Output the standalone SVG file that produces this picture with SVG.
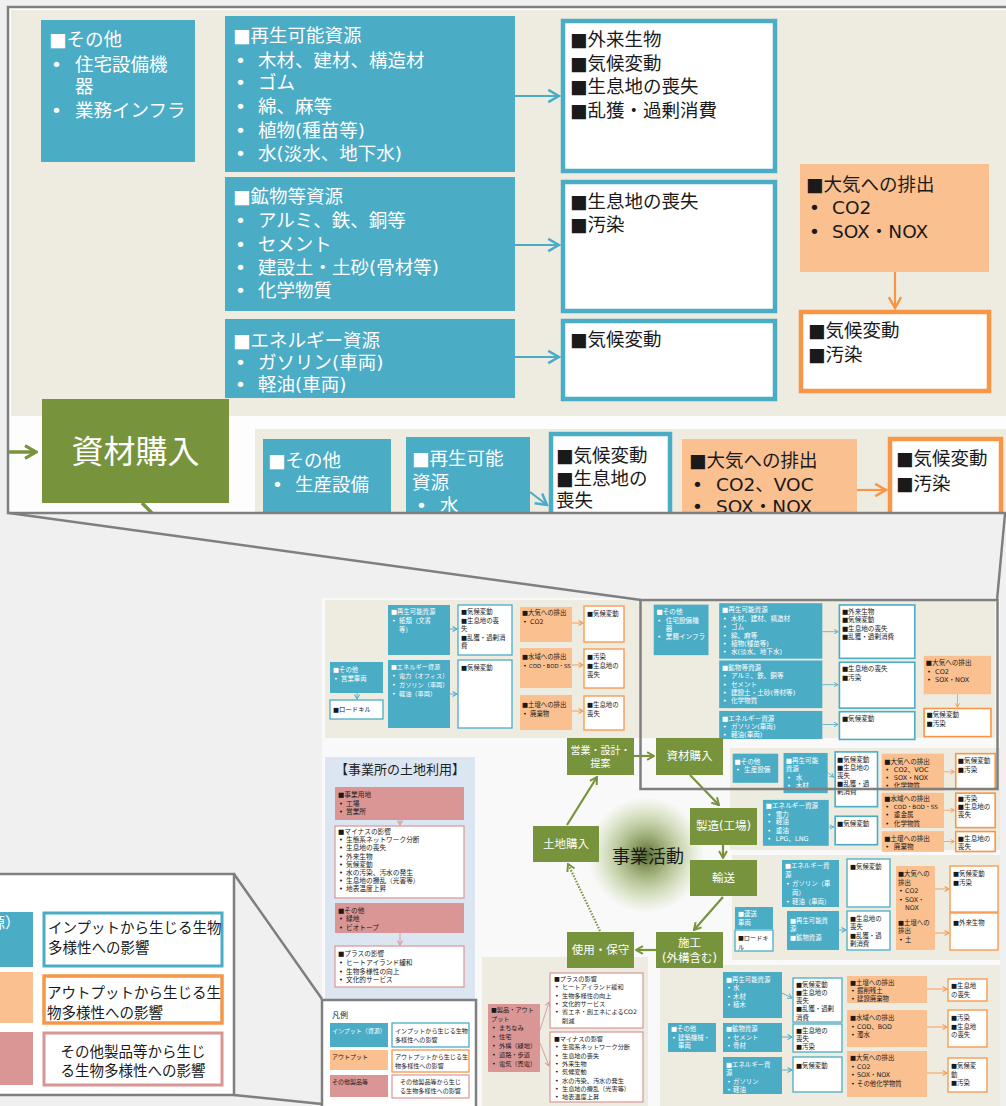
<svg xmlns="http://www.w3.org/2000/svg" xmlns:xlink="http://www.w3.org/1999/xlink" width="1006" height="1106" viewBox="0 0 1006 1106">
<defs>
<style>
text{font-family:"DejaVu Sans","Noto Sans CJK JP","Noto Sans CJK SC",sans-serif}
.bg{fill:#eeece1}
.in{fill:#4bacc6}
.inb{fill:#fff;stroke:#4bacc6;stroke-width:1.3}
.out{fill:#fac090}
.outb{fill:#fff;stroke:#f79646;stroke-width:1.3}
.oth{fill:#d99694}
.othb{fill:#fff;stroke:#d99694;stroke-width:1.2}
.grn{fill:#77933c}
.bw{stroke-width:4.5}
.w{fill:#fff}
.k{fill:#1a1a1a}
.b{font-size:18.5px}
.s{font-size:6.4px}
.s6{font-size:6.2px}
.s7{font-size:6.7px}
.lg{font-size:14.5px}
.cy{font-size:11.5px;fill:#fff}
.frame{fill:none;stroke:#7f7f7f;stroke-width:2.5}
.ab{fill:none;stroke:#4bacc6;stroke-width:2.2;marker-end:url(#mb)}
.abs{fill:none;stroke:#4bacc6;stroke-width:0.9;marker-end:url(#mb)}
.ao{fill:none;stroke:#f79646;stroke-width:2.2;marker-end:url(#mo)}
.aos{fill:none;stroke:#f79646;stroke-width:0.9;marker-end:url(#mo)}
.ap{fill:none;stroke:#d99694;stroke-width:0.9;marker-end:url(#mp)}
.ag{fill:none;stroke:#77933c;stroke-width:2.2;marker-end:url(#mg)}
</style>
<marker id="mb" viewBox="0 0 10 10" refX="9" refY="5" markerWidth="7" markerHeight="7" orient="auto"><path d="M2,1 L9,5 L2,9" fill="none" stroke="#4bacc6" stroke-width="1.6"/></marker>
<marker id="mo" viewBox="0 0 10 10" refX="9" refY="5" markerWidth="7" markerHeight="7" orient="auto"><path d="M2,1 L9,5 L2,9" fill="none" stroke="#f79646" stroke-width="1.6"/></marker>
<marker id="mp" viewBox="0 0 10 10" refX="9" refY="5" markerWidth="7" markerHeight="7" orient="auto"><path d="M2,1 L9,5 L2,9" fill="none" stroke="#d99694" stroke-width="1.6"/></marker>
<marker id="mg" viewBox="0 0 10 10" refX="9" refY="5" markerWidth="4.5" markerHeight="4.5" orient="auto"><path d="M2,1 L9,5 L2,9" fill="none" stroke="#77933c" stroke-width="2"/></marker>
<radialGradient id="glow" cx="0.5" cy="0.5" r="0.5">
<stop offset="0" stop-color="#4f6228" stop-opacity="0.95"/>
<stop offset="0.45" stop-color="#77933c" stop-opacity="0.55"/>
<stop offset="1" stop-color="#9bbb59" stop-opacity="0"/>
</radialGradient>
<clipPath id="cp"><rect x="8" y="7" width="1010" height="506"/></clipPath>
</defs>

<rect x="0" y="0" width="1006" height="1106" fill="#f0f0f0"/>

<!-- magnified panel -->
<g id="zoom-panel" clip-path="url(#cp)">
<rect x="8" y="7" width="1010" height="506" fill="#fdfdfd"/>
<rect class="bg" x="11" y="10" width="1005" height="406"/>
<rect class="bg" x="255" y="429" width="760" height="300"/>
<g id="detail">
<g id="n-sonota-jutaku"><rect class="in" x="41" y="20" width="154" height="142"/>
<text class="b w"><tspan x="49" y="46">■その他</tspan><tspan x="51" y="71">•</tspan><tspan x="75" y="71">住宅設備機</tspan><tspan x="75" y="93">器</tspan><tspan x="51" y="117">•</tspan><tspan x="75" y="117">業務インフラ</tspan></text></g>
<g id="n-saisei"><rect class="in" x="225" y="16" width="290" height="156"/>
<text class="b w"><tspan x="233" y="42">■再生可能資源</tspan><tspan x="235" y="67">•</tspan><tspan x="258" y="67">木材、建材、構造材</tspan><tspan x="235" y="89">•</tspan><tspan x="258" y="89">ゴム</tspan><tspan x="235" y="113">•</tspan><tspan x="258" y="113">綿、麻等</tspan><tspan x="235" y="137">•</tspan><tspan x="258" y="137">植物(種苗等)</tspan><tspan x="235" y="160">•</tspan><tspan x="258" y="160">水(淡水、地下水)</tspan></text></g>
<g id="n-kobutsu"><rect class="in" x="225" y="177" width="290" height="134"/>
<text class="b w"><tspan x="233" y="203">■鉱物等資源</tspan><tspan x="235" y="227">•</tspan><tspan x="258" y="227">アルミ、鉄、銅等</tspan><tspan x="235" y="251">•</tspan><tspan x="258" y="251">セメント</tspan><tspan x="235" y="274">•</tspan><tspan x="258" y="274">建設土・土砂(骨材等)</tspan><tspan x="235" y="297">•</tspan><tspan x="258" y="297">化学物質</tspan></text></g>
<g id="n-energy"><rect class="in" x="225" y="319" width="290" height="79"/>
<text class="b w"><tspan x="233" y="347">■エネルギー資源</tspan><tspan x="235" y="369">•</tspan><tspan x="258" y="369">ガソリン(車両)</tspan><tspan x="235" y="391">•</tspan><tspan x="258" y="391">軽油(車両)</tspan></text></g>
<g id="i-saisei"><rect class="inb bw" x="563" y="21" width="212" height="150"/>
<text class="b k"><tspan x="570" y="46">■外来生物</tspan><tspan x="570" y="70">■気候変動</tspan><tspan x="570" y="93">■生息地の喪失</tspan><tspan x="570" y="117">■乱獲・過剰消費</tspan></text></g>
<g id="i-kobutsu"><rect class="inb bw" x="563" y="182" width="212" height="129"/>
<text class="b k"><tspan x="570" y="208">■生息地の喪失</tspan><tspan x="570" y="231">■汚染</tspan></text></g>
<g id="i-energy"><rect class="inb bw" x="563" y="321" width="212" height="78"/>
<text class="b k"><tspan x="570" y="346">■気候変動</tspan></text></g>
<g id="o-taiki"><rect class="out" x="800" y="164" width="189" height="108"/>
<text class="b k"><tspan x="806" y="191">■大気への排出</tspan><tspan x="809" y="214">•</tspan><tspan x="832" y="214">CO2</tspan><tspan x="809" y="238">•</tspan><tspan x="832" y="238">SOX・NOX</tspan></text></g>
<g id="oi-taiki"><rect class="outb bw" x="801" y="312" width="188" height="79"/>
<text class="b k"><tspan x="808" y="337">■気候変動</tspan><tspan x="808" y="361">■汚染</tspan></text></g>
<g id="n-seisan"><rect class="in" x="263" y="439" width="128" height="82"/>
<text class="b w"><tspan x="268" y="467">■その他</tspan><tspan x="272" y="491">•</tspan><tspan x="295" y="491">生産設備</tspan></text></g>
<g id="n-saisei2"><rect class="in" x="406" y="437" width="124" height="113"/>
<text class="b w"><tspan x="412" y="465">■再生可能</tspan><tspan x="412" y="489">資源</tspan><tspan x="416" y="512">•</tspan><tspan x="440" y="512">水</tspan><tspan x="416" y="536">•</tspan><tspan x="440" y="536">木材</tspan></text></g>
<g id="i-saisei2"><rect class="inb bw" x="551" y="434" width="119" height="154"/>
<text class="b k"><tspan x="556" y="462">■気候変動</tspan><tspan x="556" y="485">■生息地の</tspan><tspan x="556" y="507">喪失</tspan><tspan x="556" y="530">■乱獲・過</tspan><tspan x="556" y="553">剰消費</tspan></text></g>
<g id="o-taiki2"><rect class="out" x="682" y="439" width="175" height="104"/>
<text class="b k"><tspan x="689" y="467">■大気への排出</tspan><tspan x="692" y="491">•</tspan><tspan x="716" y="491">CO2、VOC</tspan><tspan x="692" y="513">•</tspan><tspan x="716" y="513">SOX・NOX</tspan><tspan x="692" y="536">•</tspan><tspan x="716" y="536">化学物質</tspan></text></g>
<g id="oi-taiki2"><rect class="outb bw" x="890" y="439" width="111" height="100"/>
<text class="b k"><tspan x="896" y="465">■気候変動</tspan><tspan x="896" y="490">■汚染</tspan></text></g>
<g id="o-suiiki2"><rect class="out" x="682" y="549" width="175" height="99"/>
<text class="b k"><tspan x="689" y="572">■水域への排出</tspan><tspan x="692" y="595">•</tspan><tspan x="716" y="595" style="font-size:16px">COD・BOD・SS</tspan><tspan x="692" y="618">•</tspan><tspan x="716" y="618">重金属</tspan><tspan x="692" y="641">•</tspan><tspan x="716" y="641">化学物質</tspan></text></g>
<g id="oi-suiiki2"><rect class="outb bw" x="890" y="550" width="111" height="97"/>
<text class="b k"><tspan x="896" y="572">■汚染</tspan><tspan x="896" y="595">■生息地の</tspan><tspan x="896" y="618">喪失</tspan></text></g>
<g id="o-dojo2"><rect class="out" x="682" y="657" width="175" height="58"/>
<text class="b k"><tspan x="689" y="684">■土壌への排出</tspan><tspan x="692" y="707">•</tspan><tspan x="716" y="707">廃棄物</tspan></text></g>
<g id="oi-dojo2"><rect class="outb bw" x="890" y="658" width="111" height="56"/>
<text class="b k"><tspan x="896" y="684">■生息地の</tspan><tspan x="896" y="707">喪失</tspan></text></g>
<g id="n-energy2"><rect class="in" x="348" y="569" width="185" height="129"/>
<text class="b w"><tspan x="356" y="593">■エネルギー資源</tspan><tspan x="360" y="616">•</tspan><tspan x="384" y="616">電力</tspan><tspan x="360" y="638">•</tspan><tspan x="384" y="638">軽油</tspan><tspan x="360" y="661">•</tspan><tspan x="384" y="661">重油</tspan><tspan x="360" y="685">•</tspan><tspan x="384" y="685">LPG、LNG</tspan></text></g>
<g id="i-energy2"><rect class="inb bw" x="551" y="615" width="119" height="80"/>
<text class="b k"><tspan x="556" y="641">■気候変動</tspan></text></g>
<g id="connectors-detail">
<path class="ab" d="M515,96 H559"/>
<path class="ab" d="M515,245 H559"/>
<path class="ab" d="M515,357 H559"/>
<path class="ab" d="M530,492 L547,505"/>
<path class="ab" d="M533,645 H547"/>
<path class="ao" d="M895,272 V308"/>
<path class="ao" d="M857,490 H886"/>
<path class="ao" d="M857,598 H886"/>
<path class="ao" d="M857,686 H886"/>
</g>
</g>
<g id="zoom-shizai"><rect class="grn" x="42" y="399" width="187" height="104"/>
<text x="135.5" y="463" text-anchor="middle" font-size="32" fill="#fff">資材購入</text></g>
<g id="connectors-zoom">
<path d="M0,452 H36" fill="none" stroke="#77933c" stroke-width="3.5" marker-end="url(#mg)"/>
<path d="M142,503 L156,517" fill="none" stroke="#77933c" stroke-width="3.5"/>
</g>
</g>
<rect class="frame" x="8" y="7" width="1010" height="506"/>

<!-- slide area -->
<rect x="322" y="598" width="678" height="508" fill="#f9f9f9"/>
<rect class="bg" x="325" y="600" width="670" height="138"/>
<rect class="bg" x="730" y="748" width="270" height="102"/>
<rect class="bg" x="732" y="855" width="268" height="105"/>
<rect class="bg" x="660" y="965" width="340" height="141"/>
<rect class="bg" x="482" y="957" width="166" height="149"/>

<use xlink:href="#detail" href="#detail" transform="translate(639.15,597.51) scale(0.3557)"/>

<!-- top-left band (sales) -->
<g id="s-saisei"><rect class="in" x="388" y="605" width="62" height="50"/>
<text class="s w"><tspan x="391" y="614">■再生可能資源</tspan><tspan x="392" y="623">•</tspan><tspan x="399" y="623">紙類（文書</tspan><tspan x="399" y="632">等）</tspan></text></g>
<g id="s-energy"><rect class="in" x="388" y="660" width="62" height="68"/>
<text class="s6 w"><tspan x="391" y="669">■エネルギー資源</tspan><tspan x="392" y="678">•</tspan><tspan x="399" y="678">電力（オフィス）</tspan><tspan x="392" y="687">•</tspan><tspan x="399" y="687">ガソリン（車両）</tspan><tspan x="392" y="696">•</tspan><tspan x="399" y="696">軽油（車両）</tspan></text></g>
<g id="s-sonota"><rect class="in" x="330" y="662" width="53" height="31"/>
<text class="s w"><tspan x="333" y="672">■その他</tspan><tspan x="334" y="681">•</tspan><tspan x="341" y="681">営業車両</tspan></text></g>
<g id="s-roadkill"><rect class="inb" x="330" y="700" width="53" height="19"/>
<text class="s k"><tspan x="333" y="712">■ロードキル</tspan></text></g>
<g id="s-i1"><rect class="inb" x="458" y="605" width="54" height="50"/>
<text class="s k"><tspan x="461" y="614">■気候変動</tspan><tspan x="461" y="622.5">■生息地の喪</tspan><tspan x="461" y="631">失</tspan><tspan x="461" y="639.5">■乱獲・過剰消</tspan><tspan x="461" y="648">費</tspan></text></g>
<g id="s-i2"><rect class="inb" x="458" y="660" width="54" height="68"/>
<text class="s k"><tspan x="461" y="670">■気候変動</tspan></text></g>
<g id="s-o1"><rect class="out" x="520" y="607" width="52" height="35"/>
<text class="s k"><tspan x="522" y="615">■大気への排出</tspan><tspan x="523" y="624">•</tspan><tspan x="530" y="624">CO2</tspan></text></g>
<g id="s-o2"><rect class="out" x="520" y="648" width="52" height="40"/>
<text class="s k"><tspan x="522" y="659">■水域への排出</tspan><tspan x="523" y="668">•</tspan><tspan x="529" y="668" style="font-size:5.4px">COD・BOD・SS</tspan></text></g>
<g id="s-o3"><rect class="out" x="520" y="695" width="52" height="35"/>
<text class="s k"><tspan x="522" y="707">■土壌への排出</tspan><tspan x="523" y="716">•</tspan><tspan x="530" y="716">廃棄物</tspan></text></g>
<g id="s-oi1"><rect class="outb" x="584" y="606" width="40" height="36"/>
<text class="s k"><tspan x="587" y="616">■気候変動</tspan></text></g>
<g id="s-oi2"><rect class="outb" x="584" y="649" width="40" height="39"/>
<text class="s k"><tspan x="587" y="659">■汚染</tspan><tspan x="587" y="668">■生息地の</tspan><tspan x="587" y="677">喪失</tspan></text></g>
<g id="s-oi3"><rect class="outb" x="584" y="696" width="40" height="34"/>
<text class="s k"><tspan x="587" y="707">■生息地の</tspan><tspan x="587" y="716">喪失</tspan></text></g>
<g id="connectors-sales">
<path class="abs" d="M357,693 V699"/>
<path class="abs" d="M450,629 H457"/>
<path class="abs" d="M450,694 H457"/>
<path class="aos" d="M572,623 H583"/>
<path class="aos" d="M572,665 H583"/>
<path class="aos" d="M572,711 H583"/>
</g>

<!-- land use panel -->
<rect x="325" y="757" width="150" height="243" fill="#dce6f2"/>
<text x="400" y="774" text-anchor="middle" font-size="13" fill="#222">【事業所の土地利用】</text>
<g id="l-jigyo"><rect class="oth" x="335" y="787" width="129" height="33"/>
<text class="s7 k"><tspan x="338" y="797">■事業用地</tspan><tspan x="339" y="805.5">•</tspan><tspan x="346" y="805.5">工場</tspan><tspan x="339" y="814">•</tspan><tspan x="346" y="814">営業所</tspan></text></g>
<g id="l-minus"><rect class="othb" x="335" y="826" width="129" height="72"/>
<text class="s7 k"><tspan x="338" y="834">■マイナスの影響</tspan><tspan x="339" y="842.2">•</tspan><tspan x="346" y="842.2">生態系ネットワーク分断</tspan><tspan x="339" y="850.4">•</tspan><tspan x="346" y="850.4">生息地の喪失</tspan><tspan x="339" y="858.6">•</tspan><tspan x="346" y="858.6">外来生物</tspan><tspan x="339" y="866.8">•</tspan><tspan x="346" y="866.8">気候変動</tspan><tspan x="339" y="875">•</tspan><tspan x="346" y="875">水の汚染、汚水の発生</tspan><tspan x="339" y="883.2">•</tspan><tspan x="346" y="883.2">生息地の攪乱（光害等）</tspan><tspan x="339" y="891.4">•</tspan><tspan x="346" y="891.4">地表温度上昇</tspan></text></g>
<g id="l-sonota"><rect class="oth" x="335" y="903" width="129" height="30"/>
<text class="s7 k"><tspan x="338" y="912.5">■その他</tspan><tspan x="339" y="921">•</tspan><tspan x="346" y="921">緑地</tspan><tspan x="339" y="929.5">•</tspan><tspan x="346" y="929.5">ビオトープ</tspan></text></g>
<g id="l-plus"><rect class="othb" x="335" y="946" width="129" height="41"/>
<text class="s7 k"><tspan x="338" y="956">■プラスの影響</tspan><tspan x="339" y="965">•</tspan><tspan x="346" y="965">ヒートアイランド緩和</tspan><tspan x="339" y="973.5">•</tspan><tspan x="346" y="973.5">生物多様性の向上</tspan><tspan x="339" y="982">•</tspan><tspan x="346" y="982">文化的サービス</tspan></text></g>
<g id="connectors-land">
<path class="ap" d="M400,820 V825"/>
<path class="ap" d="M400,933 V945"/>
</g>

<!-- transport band -->
<g id="t-energy"><rect class="in" x="782" y="860" width="57" height="47"/>
<text class="s w"><tspan x="785" y="868">■エネルギー資</tspan><tspan x="785" y="877">源</tspan><tspan x="786" y="886">•</tspan><tspan x="792" y="886">ガソリン（車</tspan><tspan x="792" y="895">両）</tspan><tspan x="786" y="904">•</tspan><tspan x="792" y="904">軽油（車両）</tspan></text></g>
<g id="t-i1"><rect class="inb" x="847" y="859" width="43" height="48"/>
<text class="s k"><tspan x="850" y="869">■気候変動</tspan></text></g>
<g id="t-o1"><rect class="out" x="896" y="866" width="39" height="47"/>
<text class="s k"><tspan x="898" y="876">■大気への</tspan><tspan x="898" y="884.5">排出</tspan><tspan x="899" y="893">•</tspan><tspan x="905" y="893">CO2</tspan><tspan x="899" y="901.5">•</tspan><tspan x="905" y="901.5">SOX・</tspan><tspan x="905" y="910">NOX</tspan></text></g>
<g id="t-oi1"><rect class="outb" x="950" y="866" width="48" height="46"/>
<text class="s k"><tspan x="953" y="876">■気候変動</tspan><tspan x="953" y="885">■汚染</tspan></text></g>
<g id="t-truck"><rect class="in" x="735" y="907" width="38" height="22"/>
<text class="s w"><tspan x="738" y="916">■運送</tspan><tspan x="738" y="924.5">車両</tspan></text></g>
<g id="t-roadkill"><rect class="inb" x="735" y="930" width="38" height="21"/>
<text class="s6 k"><tspan x="738" y="940">■ロードキ</tspan><tspan x="738" y="948.5">ル</tspan></text></g>
<g id="t-shigen"><rect class="in" x="787" y="911" width="52" height="39"/>
<text class="s w"><tspan x="790" y="922.5">■再生可能資</tspan><tspan x="790" y="931">源</tspan><tspan x="790" y="940">■鉱物資源</tspan></text></g>
<g id="t-i2"><rect class="inb" x="847" y="911" width="43" height="39"/>
<text class="s k"><tspan x="850" y="920.5">■生息地の</tspan><tspan x="850" y="929">喪失</tspan><tspan x="850" y="937.5">■乱獲・過</tspan><tspan x="850" y="946">剰消費</tspan></text></g>
<g id="t-o2"><rect class="out" x="896" y="913" width="39" height="37"/>
<text class="s k"><tspan x="898" y="924.5">■土壌への</tspan><tspan x="898" y="933">排出</tspan><tspan x="899" y="941.5">•</tspan><tspan x="905" y="941.5">土</tspan></text></g>
<g id="t-oi2"><rect class="outb" x="950" y="913" width="48" height="37"/>
<text class="s k"><tspan x="953" y="925">■外来生物</tspan></text></g>
<g id="connectors-transport">
<path class="abs" d="M839,930 H846"/>
<path class="aos" d="M935,889 H949"/>
<path class="aos" d="M935,933 H949"/>
</g>

<!-- construction band -->
<g id="k-sonota"><rect class="in" x="668" y="1023" width="48" height="29"/>
<text class="s w"><tspan x="671" y="1031">■その他</tspan><tspan x="672" y="1039.5">•</tspan><tspan x="678" y="1039.5">建築機械・</tspan><tspan x="678" y="1048">車両</tspan></text></g>
<g id="k-saisei"><rect class="in" x="723" y="972" width="59" height="46"/>
<text class="s w"><tspan x="726" y="981.5">■再生可能資源</tspan><tspan x="727" y="990">•</tspan><tspan x="733" y="990">水</tspan><tspan x="727" y="998.5">•</tspan><tspan x="733" y="998.5">木材</tspan><tspan x="727" y="1007">•</tspan><tspan x="733" y="1007">植木</tspan></text></g>
<g id="k-kobutsu"><rect class="in" x="723" y="1023" width="59" height="29"/>
<text class="s w"><tspan x="726" y="1031">■鉱物資源</tspan><tspan x="727" y="1039.5">•</tspan><tspan x="733" y="1039.5">セメント</tspan><tspan x="727" y="1048">•</tspan><tspan x="733" y="1048">骨材</tspan></text></g>
<g id="k-energy"><rect class="in" x="723" y="1057" width="59" height="37"/>
<text class="s w"><tspan x="726" y="1066.5">■エネルギー資</tspan><tspan x="726" y="1075">源</tspan><tspan x="727" y="1083.5">•</tspan><tspan x="733" y="1083.5">ガソリン</tspan><tspan x="727" y="1092">•</tspan><tspan x="733" y="1092">軽油</tspan></text></g>
<g id="k-i1"><rect class="inb" x="793" y="978" width="49" height="44"/>
<text class="s k"><tspan x="796" y="986.5">■気候変動</tspan><tspan x="796" y="994.8">■生息地の</tspan><tspan x="796" y="1003.1">喪失</tspan><tspan x="796" y="1011.4">■乱獲・過剰</tspan><tspan x="796" y="1019.7">消費</tspan></text></g>
<g id="k-i2"><rect class="inb" x="793" y="1024" width="49" height="28"/>
<text class="s k"><tspan x="796" y="1032.5">■生息地の</tspan><tspan x="796" y="1040.8">喪失</tspan><tspan x="796" y="1049.1">■汚染</tspan></text></g>
<g id="k-i3"><rect class="inb" x="793" y="1057" width="49" height="35"/>
<text class="s k"><tspan x="796" y="1068">■気候変動</tspan></text></g>
<g id="k-o1"><rect class="out" x="847" y="976" width="80" height="27"/>
<text class="s k"><tspan x="850" y="984.5">■土壌への排出</tspan><tspan x="851" y="992.8">•</tspan><tspan x="857" y="992.8">掘削残土</tspan><tspan x="851" y="1001.1">•</tspan><tspan x="857" y="1001.1">建設廃棄物</tspan></text></g>
<g id="k-o2"><rect class="out" x="847" y="1010" width="80" height="37"/>
<text class="s k"><tspan x="850" y="1020">■水域への排出</tspan><tspan x="851" y="1028.5">•</tspan><tspan x="857" y="1028.5">COD、BOD</tspan><tspan x="851" y="1037">•</tspan><tspan x="857" y="1037">濁水</tspan></text></g>
<g id="k-o3"><rect class="out" x="847" y="1051" width="80" height="46"/>
<text class="s k"><tspan x="850" y="1060">■大気への排出</tspan><tspan x="851" y="1068.5">•</tspan><tspan x="857" y="1068.5">CO2</tspan><tspan x="851" y="1077">•</tspan><tspan x="857" y="1077">SOX・NOX</tspan><tspan x="851" y="1085.5">•</tspan><tspan x="857" y="1085.5">その他化学物質</tspan></text></g>
<g id="k-oi1"><rect class="outb" x="948" y="979" width="39" height="22"/>
<text class="s k"><tspan x="951" y="988">■生息地</tspan><tspan x="951" y="996.5">の喪失</tspan></text></g>
<g id="k-oi2"><rect class="outb" x="948" y="1010" width="39" height="37"/>
<text class="s k"><tspan x="951" y="1020">■汚染</tspan><tspan x="951" y="1028.5">■生息地</tspan><tspan x="951" y="1037">の喪失</tspan></text></g>
<g id="k-oi3"><rect class="outb" x="948" y="1058" width="39" height="34"/>
<text class="s k"><tspan x="951" y="1068">■気候変</tspan><tspan x="951" y="1076.5">動</tspan><tspan x="951" y="1085">■汚染</tspan></text></g>
<g id="connectors-construction">
<path class="abs" d="M782,993 L792,998"/>
<path class="abs" d="M782,1037 H792"/>
<path class="abs" d="M782,1070 H792"/>
<path class="aos" d="M927,989 H947"/>
<path class="aos" d="M927,1027 H947"/>
<path class="aos" d="M927,1073 H947"/>
</g>

<!-- use band -->
<g id="u-product"><rect class="oth" x="488" y="1004" width="52" height="68"/>
<text class="s6 k"><tspan x="491" y="1012">■製品・アウト</tspan><tspan x="491" y="1020.5">プット</tspan><tspan x="492" y="1029.5">•</tspan><tspan x="499" y="1029.5">まちなみ</tspan><tspan x="492" y="1038.5">•</tspan><tspan x="499" y="1038.5">住宅</tspan><tspan x="492" y="1047.5">•</tspan><tspan x="499" y="1047.5">外構（緑地）</tspan><tspan x="492" y="1056.5">•</tspan><tspan x="499" y="1056.5">道路・歩道</tspan><tspan x="492" y="1065.5">•</tspan><tspan x="499" y="1065.5">電気（売電）</tspan></text></g>
<g id="u-plus"><rect class="othb" x="550" y="973" width="93" height="55"/>
<text class="s6 k"><tspan x="554" y="981">■プラスの影響</tspan><tspan x="555" y="989.3">•</tspan><tspan x="562" y="989.3">ヒートアイランド緩和</tspan><tspan x="555" y="997.6">•</tspan><tspan x="562" y="997.6">生物多様性の向上</tspan><tspan x="555" y="1005.9">•</tspan><tspan x="562" y="1005.9">文化的サービス</tspan><tspan x="555" y="1014.2">•</tspan><tspan x="562" y="1014.2">省エネ・創エネによるCO2</tspan><tspan x="562" y="1022.5">削減</tspan></text></g>
<g id="u-minus"><rect class="othb" x="550" y="1032" width="93" height="70"/>
<text class="s6 k"><tspan x="554" y="1041">■マイナスの影響</tspan><tspan x="555" y="1049.3">•</tspan><tspan x="562" y="1049.3">生態系ネットワーク分断</tspan><tspan x="555" y="1057.6">•</tspan><tspan x="562" y="1057.6">生息地の喪失</tspan><tspan x="555" y="1065.9">•</tspan><tspan x="562" y="1065.9">外来生物</tspan><tspan x="555" y="1074.2">•</tspan><tspan x="562" y="1074.2">気候変動</tspan><tspan x="555" y="1082.5">•</tspan><tspan x="562" y="1082.5">水の汚染、汚水の発生</tspan><tspan x="555" y="1090.8">•</tspan><tspan x="562" y="1090.8">生息地の攪乱（光害等）</tspan><tspan x="555" y="1099.1">•</tspan><tspan x="562" y="1099.1">地表温度上昇</tspan></text></g>
<g id="connectors-use">
<path class="ap" d="M540,1030 L549,1002"/>
<path class="ap" d="M540,1043 L549,1066"/>
</g>

<!-- business cycle -->
<circle cx="646" cy="855" r="58" fill="url(#glow)"/>
<text x="648" y="863" text-anchor="middle" font-size="18" fill="#1a1a1a">事業活動</text>
<g id="c-eigyo"><rect class="grn" x="567" y="738" width="67" height="37"/>
<text class="cy" text-anchor="middle" style="font-size:10px"><tspan x="600.5" y="754">営業・設計・</tspan><tspan x="600.5" y="767">提案</tspan></text></g>
<g id="c-shizai"><rect class="grn" x="656" y="738" width="67" height="37"/>
<text class="cy" x="689.5" y="760" text-anchor="middle">資材購入</text></g>
<g id="c-seizo"><rect class="grn" x="690" y="808" width="67" height="37"/>
<text class="cy" x="723.5" y="830" text-anchor="middle">製造(工場)</text></g>
<g id="c-yuso"><rect class="grn" x="690" y="860" width="67" height="36"/>
<text class="cy" x="723.5" y="882" text-anchor="middle">輸送</text></g>
<g id="c-seko"><rect class="grn" x="656" y="932" width="67" height="36"/>
<text class="cy" text-anchor="middle"><tspan x="689.5" y="947">施工</tspan><tspan x="689.5" y="962">(外構含む)</tspan></text></g>
<g id="c-shiyo"><rect class="grn" x="567" y="932" width="67" height="36"/>
<text class="cy" x="600.5" y="954" text-anchor="middle">使用・保守</text></g>
<g id="c-tochi"><rect class="grn" x="533" y="826" width="66" height="36"/>
<text class="cy" x="566" y="848" text-anchor="middle">土地購入</text></g>
<g id="connectors-cycle">
<path class="ag" d="M634,756 H654"/>
<path class="ag" d="M690,775 L719,805"/>
<path class="ag" d="M723,845 V858"/>
<path class="ag" d="M723,897 L694,930"/>
<path class="ag" d="M656,950 H636"/>
<path class="ag" d="M600,931 L568,864" stroke-dasharray="1.5 1.5"/>
<path class="ag" d="M567,825 L597,777"/>
</g>

<!-- small legend -->
<g id="legend-small">
<rect x="322" y="1000" width="154" height="112" fill="#fff" stroke="#7f7f7f" stroke-width="2.5"/>
<text x="332" y="1018" font-size="8" fill="#222">凡例</text>
<rect class="in" x="330" y="1023" width="58" height="24"/>
<text x="332" y="1033" font-size="6" fill="#fff">インプット（資源）</text>
<rect class="inb" x="392" y="1023" width="77" height="24"/>
<text font-size="6.1" fill="#1a1a1a"><tspan x="395" y="1033">インプットから生じる生物</tspan><tspan x="395" y="1042">多様性への影響</tspan></text>
<rect class="out" x="330" y="1050" width="58" height="20"/>
<text x="332" y="1059" font-size="6" fill="#1a1a1a">アウトプット</text>
<rect class="outb" x="392" y="1050" width="77" height="22"/>
<text font-size="6.1" fill="#1a1a1a"><tspan x="395" y="1059">アウトプットから生じる生</tspan><tspan x="395" y="1068">物多様性への影響</tspan></text>
<rect class="oth" x="330" y="1075" width="58" height="22"/>
<text x="332" y="1084" font-size="6" fill="#1a1a1a">その他製品等</text>
<rect class="othb" x="392" y="1075" width="77" height="23"/>
<text font-size="6.1" fill="#1a1a1a" text-anchor="middle"><tspan x="430.5" y="1084">その他製品等から生じ</tspan><tspan x="430.5" y="1093">る生物多様性への影響</tspan></text>
</g>

<!-- big legend -->
<g id="legend-big">
<rect x="-10" y="874" width="244" height="221" fill="#fff" stroke="#7f7f7f" stroke-width="2.5"/>
<rect class="in" x="-10" y="912" width="43" height="55"/>
<text x="20" y="928" font-size="15" fill="#fff" text-anchor="end">インプット（資源）</text>
<rect class="out" x="-10" y="972" width="43" height="51"/>
<rect class="oth" x="-10" y="1032" width="43" height="53"/>
<rect x="44" y="913" width="178" height="53" fill="#fff" stroke="#4bacc6" stroke-width="3"/>
<text class="lg k"><tspan x="48" y="933">インプットから生じる生物</tspan><tspan x="48" y="953">多様性への影響</tspan></text>
<rect x="44" y="976" width="178" height="47" fill="#fff" stroke="#f79646" stroke-width="3.5"/>
<text class="lg k"><tspan x="47" y="998">アウトプットから生じる生</tspan><tspan x="47" y="1018">物多様性への影響</tspan></text>
<rect x="44" y="1033" width="178" height="52" fill="#fff" stroke="#d99694" stroke-width="3"/>
<text class="lg k" text-anchor="middle"><tspan x="133" y="1057">その他製品等から生じ</tspan><tspan x="133" y="1076">る生物多様性への影響</tspan></text>
</g>

<!-- highlight and zoom lines -->
<g id="zoom-lines">
<rect class="frame" x="640.5" y="600" width="357" height="189"/>
<path d="M9,513 L641,600 M1005,514 L997,600 M234,874 L322,999 M234,1095 L322,1104" fill="none" stroke="#7f7f7f" stroke-width="2.5"/>
</g>
</svg>
